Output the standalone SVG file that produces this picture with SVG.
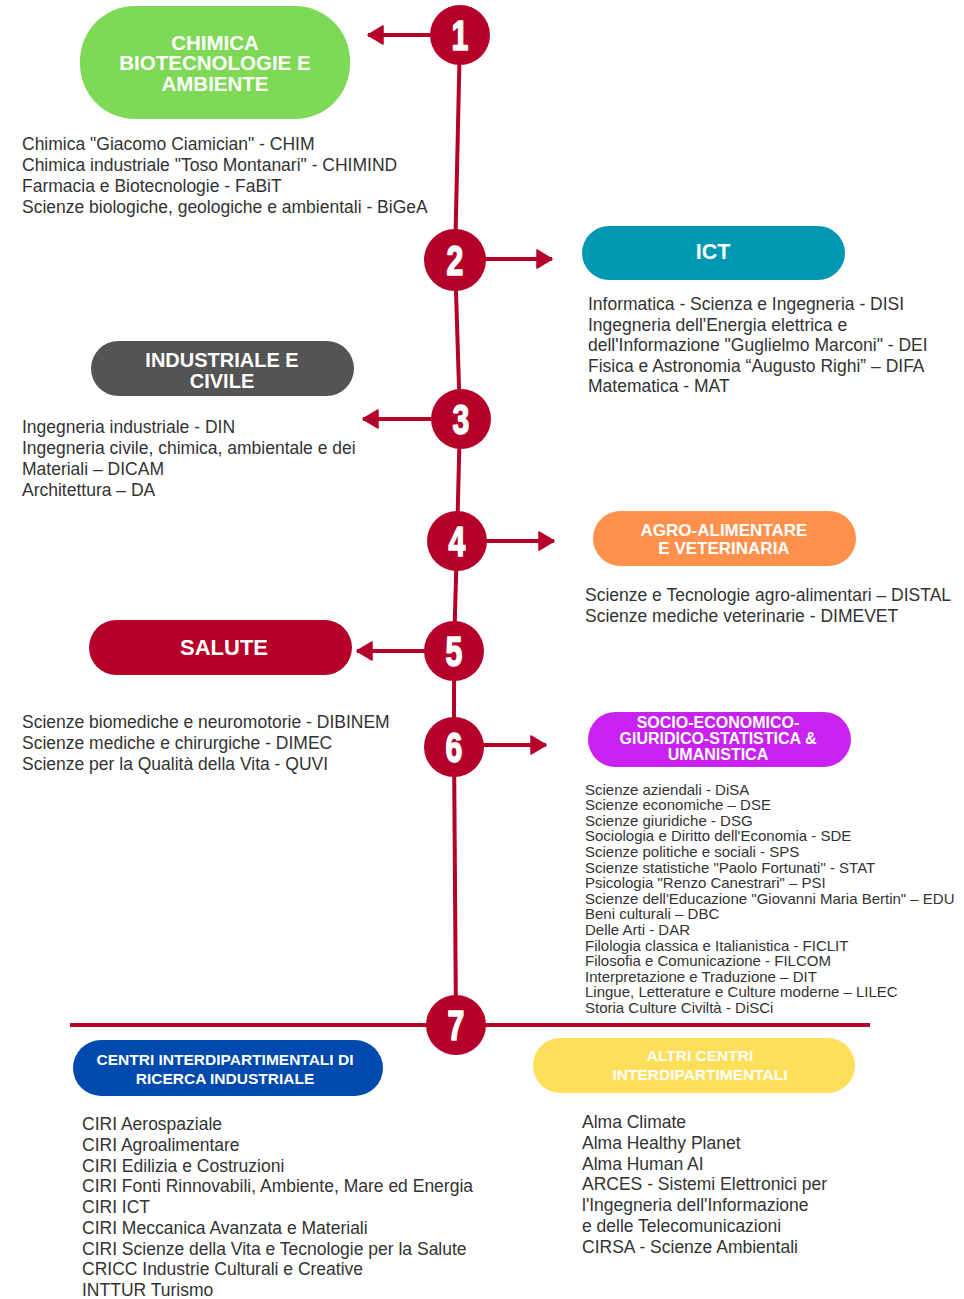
<svg xmlns="http://www.w3.org/2000/svg" width="964" height="1299" viewBox="0 0 964 1299">
<style>
.body{font-family:"Liberation Sans",Arial,sans-serif;font-size:17.5px;fill:#333333}
.small{font-family:"Liberation Sans",Arial,sans-serif;font-size:15px;fill:#333333}
.pt{font-family:"Liberation Sans",Arial,sans-serif;font-weight:bold;fill:#ffffff;text-anchor:middle}
.num{font-family:"Liberation Sans",Arial,sans-serif;font-weight:bold;font-size:42px;fill:#ffffff;stroke:#ffffff;stroke-width:1.6;stroke-linejoin:round;text-anchor:middle}
.ln{stroke:#b5002a;stroke-width:4;fill:none}
.dot{fill:#b5002a}
</style>
<defs>
<marker id="ah" markerUnits="userSpaceOnUse" markerWidth="18" markerHeight="20" refX="16" refY="10" orient="auto">
<path d="M1,1 L16,10 L1,19 Z" fill="#b5002a" stroke="#b5002a" stroke-width="1.5" stroke-linejoin="round"/>
</marker>
</defs>
<rect width="964" height="1299" fill="#ffffff"/>
<g id="connectors">
<polyline class="ln" points="460,36 455,260 460,419 457,541 454,651 454,747 456,1025"/>
<line class="ln" x1="70" y1="1025" x2="870" y2="1025"/>
<line class="ln" x1="460" y1="35" x2="368" y2="35" marker-end="url(#ah)"/>
<line class="ln" x1="455" y1="259" x2="552" y2="259" marker-end="url(#ah)"/>
<line class="ln" x1="460" y1="419" x2="363" y2="419" marker-end="url(#ah)"/>
<line class="ln" x1="457" y1="541" x2="554" y2="541" marker-end="url(#ah)"/>
<line class="ln" x1="454" y1="651" x2="357" y2="651" marker-end="url(#ah)"/>
<line class="ln" x1="454" y1="745" x2="546" y2="745" marker-end="url(#ah)"/>
</g>
<g id="step1"><circle class="dot" cx="460" cy="35" r="30"/><text class="num" transform="translate(460,50) scale(0.72,1)">1</text></g>
<g id="step2"><circle class="dot" cx="455" cy="260" r="31"/><text class="num" transform="translate(455,275) scale(0.72,1)">2</text></g>
<g id="step3"><circle class="dot" cx="461" cy="419" r="30"/><text class="num" transform="translate(461,434) scale(0.72,1)">3</text></g>
<g id="step4"><circle class="dot" cx="457" cy="541" r="30"/><text class="num" transform="translate(457,556) scale(0.72,1)">4</text></g>
<g id="step5"><circle class="dot" cx="454" cy="651" r="30"/><text class="num" transform="translate(454,666) scale(0.72,1)">5</text></g>
<g id="step6"><circle class="dot" cx="454" cy="747" r="30"/><text class="num" transform="translate(454,762) scale(0.72,1)">6</text></g>
<g id="step7"><circle class="dot" cx="456" cy="1025" r="30"/><text class="num" transform="translate(456,1040) scale(0.72,1)">7</text></g>

<g id="chimica">
<rect x="80" y="6" width="270" height="113" rx="55" fill="#7ed957"/>
<text class="pt" style="font-size:20.5px"><tspan x="215" y="49.5">CHIMICA</tspan><tspan x="215" y="70.25">BIOTECNOLOGIE E</tspan><tspan x="215" y="91">AMBIENTE</tspan></text>
<text class="body" x="22" y="150">Chimica "Giacomo Ciamician" - CHIM</text>
<text class="body" x="22" y="171">Chimica industriale "Toso Montanari" - CHIMIND</text>
<text class="body" x="22" y="192">Farmacia e Biotecnologie - FaBiT</text>
<text class="body" x="22" y="213">Scienze biologiche, geologiche e ambientali - BiGeA</text>
</g>

<g id="ict">
<rect x="582" y="226" width="263" height="54" rx="27" fill="#0097b2"/>
<text class="pt" style="font-size:21.5px" x="713" y="259">ICT</text>
<text class="body" x="588" y="310">Informatica - Scienza e Ingegneria - DISI</text>
<text class="body" x="588" y="331">Ingegneria dell'Energia elettrica e</text>
<text class="body" x="588" y="351">dell'Informazione "Guglielmo Marconi" - DEI</text>
<text class="body" x="588" y="372">Fisica e Astronomia “Augusto Righi” – DIFA</text>
<text class="body" x="588" y="392">Matematica - MAT</text>
</g>

<g id="industriale">
<rect x="91" y="341" width="263" height="55" rx="27.5" fill="#545454"/>
<text class="pt" style="font-size:20px"><tspan x="222" y="367">INDUSTRIALE E</tspan><tspan x="222" y="387.5">CIVILE</tspan></text>
<text class="body" x="22" y="433">Ingegneria industriale - DIN</text>
<text class="body" x="22" y="454">Ingegneria civile, chimica, ambientale e dei</text>
<text class="body" x="22" y="475">Materiali – DICAM</text>
<text class="body" x="22" y="496">Architettura – DA</text>
</g>

<g id="agro">
<rect x="593" y="511" width="263" height="55" rx="27.5" fill="#ff914d"/>
<text class="pt" style="font-size:17px"><tspan x="724" y="536">AGRO-ALIMENTARE</tspan><tspan x="724" y="553.5">E VETERINARIA</tspan></text>
<text class="body" x="585" y="601">Scienze e Tecnologie agro-alimentari – DISTAL</text>
<text class="body" x="585" y="622">Scienze mediche veterinarie - DIMEVET</text>
</g>

<g id="salute">
<rect x="89" y="620" width="263" height="55" rx="27.5" fill="#b5002a"/>
<text class="pt" style="font-size:22px" x="224" y="655">SALUTE</text>
<text class="body" x="22" y="728">Scienze biomediche e neuromotorie - DIBINEM</text>
<text class="body" x="22" y="749">Scienze mediche e chirurgiche - DIMEC</text>
<text class="body" x="22" y="770">Scienze per la Qualità della Vita - QUVI</text>
</g>

<g id="socio">
<rect x="588" y="712" width="263" height="55" rx="27.5" fill="#c922f0"/>
<text class="pt" style="font-size:16px"><tspan x="718" y="728">SOCIO-ECONOMICO-</tspan><tspan x="718" y="744.2">GIURIDICO-STATISTICA &amp;</tspan><tspan x="718" y="760.4">UMANISTICA</tspan></text>
<text class="small"><tspan x="585" y="794.5">Scienze aziendali - DiSA</tspan><tspan x="585" y="810.1">Scienze economiche – DSE</tspan><tspan x="585" y="825.7">Scienze giuridiche - DSG</tspan><tspan x="585" y="841.3">Sociologia e Diritto dell'Economia - SDE</tspan><tspan x="585" y="856.9">Scienze politiche e sociali - SPS</tspan><tspan x="585" y="872.5">Scienze statistiche "Paolo Fortunati" - STAT</tspan><tspan x="585" y="888.1">Psicologia "Renzo Canestrari" – PSI</tspan><tspan x="585" y="903.7">Scienze dell'Educazione "Giovanni Maria Bertin" – EDU</tspan><tspan x="585" y="919.3">Beni culturali – DBC</tspan><tspan x="585" y="934.9">Delle Arti - DAR</tspan><tspan x="585" y="950.5">Filologia classica e Italianistica - FICLIT</tspan><tspan x="585" y="966.1">Filosofia e Comunicazione - FILCOM</tspan><tspan x="585" y="981.7">Interpretazione e Traduzione – DIT</tspan><tspan x="585" y="997.3">Lingue, Letterature e Culture moderne – LILEC</tspan><tspan x="585" y="1012.9">Storia Culture Civiltà - DiSCi</tspan></text>
</g>

<g id="ciri">
<rect x="73" y="1040" width="310" height="56" rx="28" fill="#004aad"/>
<text class="pt" style="font-size:15.5px"><tspan x="225" y="1064.5">CENTRI INTERDIPARTIMENTALI DI</tspan><tspan x="225" y="1083.5">RICERCA INDUSTRIALE</tspan></text>
<text class="body" x="82" y="1130">CIRI Aerospaziale</text>
<text class="body" x="82" y="1150.75">CIRI Agroalimentare</text>
<text class="body" x="82" y="1171.5">CIRI Edilizia e Costruzioni</text>
<text class="body" x="82" y="1192.25">CIRI Fonti Rinnovabili, Ambiente, Mare ed Energia</text>
<text class="body" x="82" y="1213">CIRI ICT</text>
<text class="body" x="82" y="1233.75">CIRI Meccanica Avanzata e Materiali</text>
<text class="body" x="82" y="1254.5">CIRI Scienze della Vita e Tecnologie per la Salute</text>
<text class="body" x="82" y="1275.25">CRICC Industrie Culturali e Creative</text>
<text class="body" x="82" y="1296">INTTUR Turismo</text>
</g>

<g id="altri">
<rect x="533" y="1038" width="322" height="55" rx="27.5" fill="#ffde59"/>
<text class="pt" style="font-size:15.5px"><tspan x="700" y="1060.5">ALTRI CENTRI</tspan><tspan x="700" y="1079.5">INTERDIPARTIMENTALI</tspan></text>
<text class="body" x="582" y="1128">Alma Climate</text>
<text class="body" x="582" y="1148.8">Alma Healthy Planet</text>
<text class="body" x="582" y="1169.6">Alma Human AI</text>
<text class="body" x="582" y="1190.4">ARCES - Sistemi Elettronici per</text>
<text class="body" x="582" y="1211.2">l'Ingegneria dell'Informazione</text>
<text class="body" x="582" y="1232">e delle Telecomunicazioni</text>
<text class="body" x="582" y="1252.8">CIRSA - Scienze Ambientali</text>
</g>
</svg>
